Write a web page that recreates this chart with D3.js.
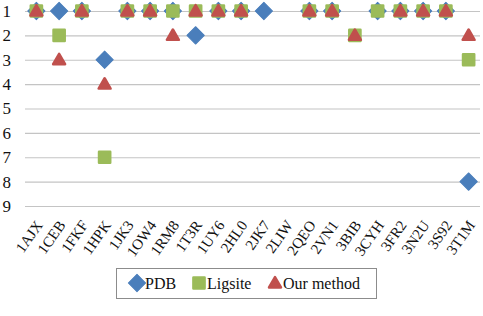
<!DOCTYPE html>
<html>
<head>
<meta charset="utf-8">
<script src="https://cdn.jsdelivr.net/npm/d3@7"></script>
<style>
body{margin:0;background:#fff;}
svg{display:block;font-family:"Liberation Serif","DejaVu Serif",serif;}
</style>
</head>
<body>
<div class="chart"></div>
<script>
var width = 483, height = 316;
var categories = ["1AJX","1CEB","1FKF","1HPK","1JK3","1OW4","1RM8","1T3R","1UY6","2HL0","2JK7","2LIW","2QEO","2VN1","3BIB","3CYH","3FR2","3N2U","3S92","3T1M"];
var rankTicks = [1,2,3,4,5,6,7,8,9];
var pdb     = [1,1,1,3,1,1,1,2,1,1,1,null,1,1,null,1,1,1,1,8];
var ligsite = [1,2,1,7,1,1,1,1,1,1,null,null,1,1,2,1,1,1,1,3];
var ours    = [1,3,1,4,1,1,2,1,1,1,null,null,1,1,2,null,1,1,1,2];
var seriesNames = ["PDB","Ligsite","Our method"];
var colorArray = ["#4a7ebb","#9bbb59","#c0504d"];

var svg = d3.select(".chart").append("svg")
	.attr("width",width)
	.attr("height",height);
svg.append("rect").attr("width",width).attr("height",height).attr("fill","#fff");

var x = d3.scaleBand().domain(categories).range([25,480]);
var y = d3.scaleLinear().domain([1,9]).range([11,206]);

//grid + y labels
var yAxis = svg.append("g")
	.attr("transform","translate(25,0)")
	.call(d3.axisLeft(y).tickValues(rankTicks).tickFormat(d3.format("d")).tickSizeInner(-455).tickSizeOuter(0).tickPadding(14));
yAxis.select(".domain").remove();
yAxis.selectAll("line").attr("stroke","#c4c4c4").attr("stroke-width",1.2);
yAxis.selectAll("text").attr("font-size",17).attr("fill","#111").attr("font-family","Liberation Serif");

//x labels
var xAxis = svg.append("g")
	.attr("transform","translate(0,206)")
	.call(d3.axisBottom(x).tickSize(0).tickPadding(0));
xAxis.select(".domain").remove();
xAxis.selectAll("text")
	.attr("font-size",15)
	.attr("fill","#111")
	.attr("font-family","Liberation Serif")
	.attr("text-anchor","end")
	.attr("y",0)
	.attr("dy",0)
	.attr("transform","translate(7,19) rotate(-55)");

//markers
function cx(i){ return x(categories[i]) + x.bandwidth()/2; }
var shapes = [
	{sym:d3.symbolSquare, size:150, rot:45, sw:1},
	{sym:d3.symbolSquare, size:125, rot:0, sw:2.5},
	{sym:d3.symbolTriangle, size:62, rot:0, sw:2.5}
];
var allSeries = [pdb, ligsite, ours];
for(var s=0; s<allSeries.length; s++){
	var pts = allSeries[s].map(function(v,i){ return {v:v,i:i}; }).filter(function(d){ return d.v != null; });
	svg.append("g").selectAll("path").data(pts).enter().append("path")
		.attr("d",d3.symbol().type(shapes[s].sym).size(shapes[s].size))
		.attr("fill",colorArray[s])
		.attr("stroke",colorArray[s])
		.attr("stroke-width",shapes[s].sw)
		.attr("stroke-linejoin","round")
		.attr("transform",function(d){ return "translate("+cx(d.i)+","+(y(d.v)+(s==2?1:0))+") rotate("+shapes[s].rot+")"; });
}

//legend
var legend = svg.append("g");
legend.append("rect")
	.attr("x",116.5).attr("y",268.5)
	.attr("width",260).attr("height",30)
	.attr("fill","#fff")
	.attr("stroke","#8c8c8c")
	.attr("stroke-width",1);
var legendX = [137,199,275];
var textX = [145,207,283];
for(var i=0; i<3; i++){
	legend.append("path")
		.attr("d",d3.symbol().type(shapes[i].sym).size(shapes[i].size))
		.attr("fill",colorArray[i])
		.attr("stroke",colorArray[i])
		.attr("stroke-width",shapes[i].sw)
		.attr("stroke-linejoin","round")
		.attr("transform","translate("+legendX[i]+","+(283+(i==2?1:0))+") rotate("+shapes[i].rot+")");
	legend.append("text")
		.attr("x",textX[i])
		.attr("y",289)
		.attr("font-size",16)
		.attr("fill","#111")
		.text(seriesNames[i]);
}
</script>
</body>
</html>
